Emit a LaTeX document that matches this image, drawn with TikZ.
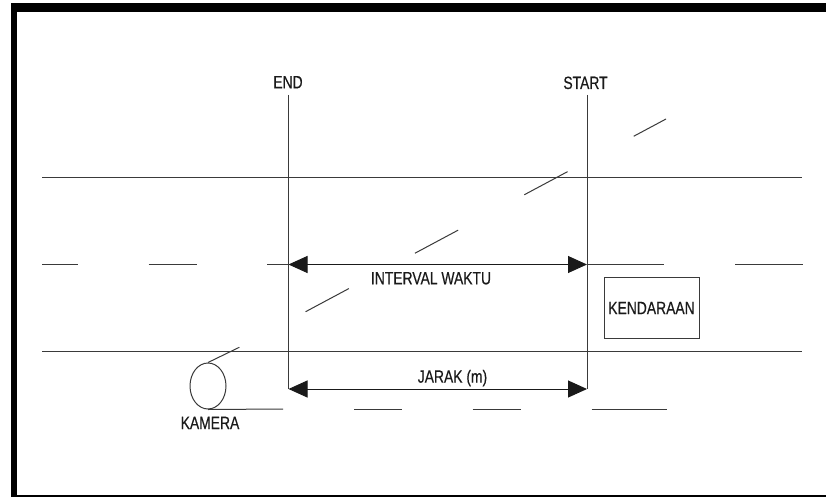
\documentclass[tikz,border=0pt]{standalone}
\usepackage{fontspec}
\setmainfont[FakeStretch=0.78,FakeBold=0.4]{Liberation Sans}
\usepackage{tikz}
\usetikzlibrary{positioning,arrows.meta,shapes.geometric}
\definecolor{ink}{HTML}{1A1A1A}
\definecolor{road}{HTML}{3A3A3A}
\definecolor{paper}{HTML}{FFFFFF}
\tikzset{
  lbl/.style={font=\fontsize{17.8}{20}\selectfont, text=ink, inner sep=0pt, anchor=base},
  edge/.style={draw=road, line width=1pt},
  lane/.style={draw=road, line width=1pt},
  gate/.style={draw=road, line width=0.9pt},
  dim/.style={{Triangle[length=19pt,width=17pt]}-{Triangle[length=19pt,width=17pt]},
              draw=ink, line width=1pt},
  car/.style={draw=road, line width=1pt, minimum width=95pt, minimum height=61.4pt,
              inner sep=0pt, font=\fontsize{17.8}{20}\selectfont, text=ink},
  cam/.style={draw=road, line width=1pt, ellipse, minimum width=36pt,
              minimum height=46pt, inner sep=0pt},
  sight/.style={draw=road, line width=1pt, dash pattern=on 49pt off 75pt},
  rim/.style={fill=black},
}

\begin{document}
\begin{tikzpicture}[x=1pt,y=-1pt]
  \useasboundingbox[fill=paper] (0,0) rectangle (826,497);
  % outer frame
  \fill[rim] (11,3.5) rectangle (826,12.3);
  \fill[rim] (11,3.5) rectangle (16.7,497);
  \fill[rim] (11,494.7) rectangle (826,497);
  % gate lines
  \coordinate (endtop)   at (288.5,95);
  \coordinate (endbot)   at (288.5,389);
  \coordinate (starttop) at (587,95);
  \coordinate (startbot) at (587,389);
  \draw[gate] (endtop) -- (endbot);
  \draw[gate] (starttop) -- (startbot);
  \node[lbl] (endlbl)   at (288,88.3) {END};
  \node[lbl] (startlbl) at (585.5,89) {START};
  % road edges
  \draw[edge] (42,177.7) -- (802.4,177.7);
  \draw[edge] (42,351) -- (802.4,351);
  % centre lane marks
  \draw[lane] (42,264.5) -- (77.5,264.5);
  \draw[lane] (148.6,264.5) -- (196.5,264.5);
  \draw[lane] (267,264.5) -- (288.5,264.5);
  \draw[lane] (587,264.5) -- (664,264.5);
  \draw[lane] (735,264.5) -- (802.7,264.5);
  % interval arrow
  \coordinate (ivl) at (endtop |- 0,264.5);
  \coordinate (ivr) at (starttop |- 0,264.5);
  \draw[dim] (ivl) -- (ivr);
  \node[lbl] (ivlbl) at (431,284.3) {INTERVAL WAKTU};
  % distance arrow
  \draw[dim] (endbot) -- (startbot);
  \node[lbl] (jarak) at (452.5,382.7) {JARAK (m)};
  % vehicle
  \node[car] (kend) at (651.5,308) {KENDARAAN};
  % camera
  \node[cam] (kam) at (208,386) {};
  \coordinate (lens) at (239.3,347.3);
  \draw[edge] (kam.north) -- (lens);
  \node[lbl] (kamlbl) at (210,429) {KAMERA};
  % lower lane marks
  \draw[lane] (kam.south) -- (283,409);
  \draw[lane] (354,409) -- (402,409);
  \draw[lane] (472.6,409) -- (520.6,409);
  \draw[lane] (591.7,409) -- (666.5,409);
  % line of sight
  \coordinate (s1) at (305.6,311.7);
  \coordinate (s2) at (666,119);
  \draw[sight] (s1) -- (s2);
\end{tikzpicture}
\end{document}
